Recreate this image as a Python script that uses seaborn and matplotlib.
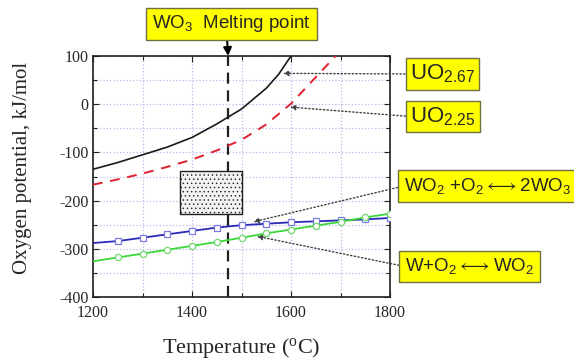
import numpy as np
import pandas as pd
import matplotlib
matplotlib.use("Agg")
import matplotlib.pyplot as plt
from matplotlib.ticker import MultipleLocator
import seaborn as sns

# ---------------- data ----------------
T_uo267 = [1200, 1250, 1300, 1350, 1400, 1450, 1500, 1550, 1575, 1600]
G_uo267 = [-135, -121, -105, -89, -69, -41, -10, 33, 62, 100]

T_uo225 = [1200, 1250, 1300, 1350, 1400, 1450, 1500, 1550, 1600, 1650, 1690]
G_uo225 = [-167, -156, -144, -130, -115, -96, -74, -42, 1, 56, 100]

T_w = [1200, 1250, 1300, 1350, 1400, 1450, 1500, 1550, 1600, 1650, 1700, 1750, 1800]
G_wo2_wo3 = [-288, -284, -277, -270, -263, -256, -251, -248, -245, -243, -241, -239, -236]
G_w_wo2 = [-326, -318, -310, -302, -294, -286, -277, -268, -260, -252, -244, -235, -227]

T_melt = 1473
box_T = [1375, 1500]
box_G = [-227, -139]

x_ticks = [1200, 1400, 1600, 1800]
y_ticks = [-400, -300, -200, -100, 0, 100]

labels = {
    "melt": r"WO$_3$  Melting point",
    "uo267": r"UO$_{2.67}$",
    "uo225": r"UO$_{2.25}$",
    "wo3": r"WO$_2$ +O$_2$$\longleftrightarrow$2WO$_3$",
    "wo2": r"W+O$_2$$\longleftrightarrow$WO$_2$",
}

# ---------------- style ----------------
sns.set_theme(style="white")
plt.rcParams["font.family"] = ["Liberation Serif", "DejaVu Serif"]
plt.rcParams["mathtext.default"] = "regular"
plt.rcParams["hatch.linewidth"] = 0.5

W, H = 574, 360
fig = plt.figure(figsize=(W / 100, H / 100), dpi=100)
fig.patch.set_facecolor("white")
ax = fig.add_axes([93 / W, 63 / H, 297 / W, 241 / H])
ax.set_facecolor("white")

# grid
ax.set_xlim(1200, 1800)
ax.set_ylim(-400, 100)
ax.xaxis.set_major_locator(MultipleLocator(200))
ax.xaxis.set_minor_locator(MultipleLocator(100))
ax.yaxis.set_major_locator(MultipleLocator(100))
ax.yaxis.set_minor_locator(MultipleLocator(50))
ax.set_xticks(x_ticks)
ax.set_yticks(y_ticks)
ax.grid(True, which="both", color="#b8b8e8", linestyle=":", linewidth=0.9)
ax.set_axisbelow(True)

# melting line
ax.axvline(T_melt, color="#202020", linestyle=(0, (5, 3)), linewidth=1.6, zorder=2)

# curves
sns.lineplot(x=T_uo267, y=G_uo267, ax=ax, color="#1a1a1a", linewidth=1.2, zorder=3)
sns.lineplot(x=T_uo225, y=G_uo225, ax=ax, color="#e02030", linewidth=1.4,
             linestyle=(0, (5, 4)), zorder=3)
n = len(T_w)
sns.lineplot(x=T_w, y=G_wo2_wo3, ax=ax, color="#2a2ab8", linewidth=1.3,
             marker="s", markersize=4.5, markerfacecolor="white",
             markeredgecolor="#7a7ae0", markeredgewidth=0.9,
             markevery=list(range(1, n)), zorder=4)
sns.lineplot(x=T_w, y=G_w_wo2, ax=ax, color="#3ad83a", linewidth=1.3,
             marker="o", markersize=4.5, markerfacecolor="white",
             markeredgecolor="#70d870", markeredgewidth=0.9,
             markevery=list(range(1, n)), zorder=4)

# stippled box
ax.fill_between(box_T, box_G[0], box_G[1], facecolor="#f2f2f2",
                edgecolor="#202020", hatch="....", linewidth=1.0, zorder=5)

# axes styling
for s in ax.spines.values():
    s.set_color("#202020")
    s.set_linewidth(1.2)
ax.tick_params(which="both", direction="in", top=True, right=True,
               bottom=True, left=True, color="#202020")
ax.tick_params(which="major", length=4, width=0.8)
ax.tick_params(which="minor", length=3, width=0.8)
ax.set_xticklabels([str(v) for v in x_ticks], fontsize=11.5,
                   family=["Liberation Serif", "DejaVu Serif"])
ax.set_yticklabels([str(v) for v in y_ticks], fontsize=11.5,
                   family=["Liberation Serif", "DejaVu Serif"])
ax.tick_params(axis="x", which="major", pad=5.5)
ax.tick_params(axis="y", which="major", pad=3)

ax.set_xlabel(r"Temperature ($^{o}$C)", fontsize=16)
ax.xaxis.set_label_coords(0.5, -0.16)
ax.set_ylabel("Oxygen potential, kJ/mol", fontsize=15)
ax.yaxis.set_label_coords(-0.205, 0.535)

# annotations
bbox = dict(boxstyle="square,pad=0.3", facecolor="#ffff00", edgecolor="#707040",
            linewidth=1.0)
bbox_uo = dict(boxstyle="square,pad=0.2", facecolor="#ffff00", edgecolor="#707040",
               linewidth=1.0)
sans = ["Liberation Sans", "DejaVu Sans"]
dot_arrow = dict(arrowstyle="-|>", linestyle=":", color="#404040", linewidth=1.0,
                 mutation_scale=8, relpos=(0, 0.5), shrinkA=0, shrinkB=0)

ax.annotate(labels["melt"], xy=(T_melt, 100), xycoords="data",
            xytext=(231.5, H - 24), textcoords="figure pixels",
            ha="center", va="center", fontsize=13.5, family=sans, bbox=bbox,
            arrowprops=dict(arrowstyle="-|>", color="black", linewidth=1.5,
                            mutation_scale=12, relpos=(0.47, 0), shrinkA=0, shrinkB=0),
            annotation_clip=False)
ax.annotate(labels["uo267"], xy=(1584, 64), xycoords="data",
            xytext=(442.5, H - 74), textcoords="figure pixels",
            ha="center", va="center", fontsize=16, family=sans, bbox=bbox_uo,
            arrowprops=dot_arrow, annotation_clip=False)
ax.annotate(labels["uo225"], xy=(1598, -6), xycoords="data",
            xytext=(443, H - 116.5), textcoords="figure pixels",
            ha="center", va="center", fontsize=16, family=sans, bbox=bbox_uo,
            arrowprops=dot_arrow, annotation_clip=False)
ax.annotate(labels["wo3"], xy=(1524, -244), xycoords="data",
            xytext=(487.5, H - 186), textcoords="figure pixels",
            ha="center", va="center", fontsize=13.5, family=sans, bbox=bbox,
            arrowprops=dot_arrow, annotation_clip=False)
ax.annotate(labels["wo2"], xy=(1531, -274), xycoords="data",
            xytext=(469.5, H - 266.5), textcoords="figure pixels",
            ha="center", va="center", fontsize=13.5, family=sans, bbox=bbox,
            arrowprops=dot_arrow, annotation_clip=False)

fig.savefig("out.png", dpi=100)
